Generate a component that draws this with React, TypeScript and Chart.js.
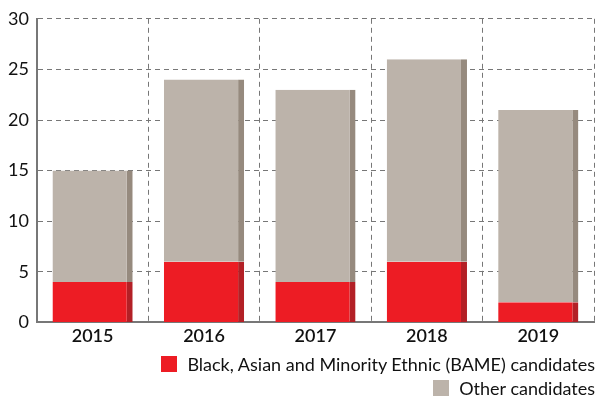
import React, { useEffect, useRef } from "react";
import { Chart, registerables } from "chart.js";

Chart.register(...registerables);

const years = ["2015", "2016", "2017", "2018", "2019"];
const bameCandidates = [4, 6, 4, 6, 2];
const otherCandidates = [11, 18, 19, 20, 19];
const yTicks = [0, 5, 10, 15, 20, 25, 30];
const seriesLabels = ["Black, Asian and Minority Ethnic (BAME) candidates", "Other candidates"];
const seriesColors = ["#ed1c24", "#bcb3aa"];
const shadowColors = ["#b32026", "#968a7e"];

const FONT = "Lato, 'Open Sans', sans-serif";

export default function App() {
  const ref = useRef<HTMLCanvasElement | null>(null);
  useEffect(() => {
    if (!ref.current) return;
    const chart = new Chart(ref.current, {
      type: "bar",
      data: {
        labels: years,
        datasets: [bameCandidates, otherCandidates].map((d, i) => ({
          label: seriesLabels[i],
          data: d,
          backgroundColor: seriesColors[i],
          borderColor: shadowColors[i],
          borderWidth: { top: 0, left: 0, bottom: 0, right: 6 },
          borderSkipped: false,
          categoryPercentage: 0.72,
          barPercentage: 1,
        })),
      },
      options: {
        animation: false,
        responsive: false,
        maintainAspectRatio: false,
        layout: { padding: { top: 2, right: 6, left: 0, bottom: 51 } },
        scales: {
          x: {
            stacked: true,
            grid: { color: "#777", lineWidth: 1, drawTicks: false },
            border: { color: "#777", width: 2, dash: [5, 4] },
            ticks: {
              color: "#111",
              font: { family: FONT, size: 18, weight: "600" },
              padding: 3,
            },
          },
          y: {
            stacked: true,
            min: 0,
            max: 30,
            afterBuildTicks: (axis: any) => {
              axis.ticks = yTicks.map((v) => ({ value: v }));
            },
            grid: { color: "#777", lineWidth: 1, drawTicks: false },
            border: { color: "#777", width: 2, dash: [5, 4] },
            ticks: {
              color: "#111",
              font: { family: FONT, size: 18 },
              padding: 8,
            },
          },
        },
        plugins: {
          legend: { display: false },
          tooltip: { enabled: false },
        },
      } as any,
    });
    return () => chart.destroy();
  }, []);
  return (
    <div style={{ position: "fixed", left: 0, top: 0, width: 600, height: 401, background: "#fff" }}>
      <canvas ref={ref} width={600} height={401} style={{ width: 600, height: 401, display: "block" }} />
      <div
        style={{
          position: "absolute",
          right: 5,
          top: 352,
          display: "flex",
          flexDirection: "column",
          alignItems: "flex-end",
          fontFamily: FONT,
          fontSize: 18,
          color: "#111",
          lineHeight: "24px",
        }}
      >
        {seriesLabels.map((l, i) => (
          <div key={l} style={{ display: "flex", alignItems: "center" }}>
            <span
              style={{
                display: "inline-block",
                width: 16,
                height: 16,
                background: seriesColors[i],
                marginRight: 10,
              }}
            />
            <span>{l}</span>
          </div>
        ))}
      </div>
    </div>
  );
}
